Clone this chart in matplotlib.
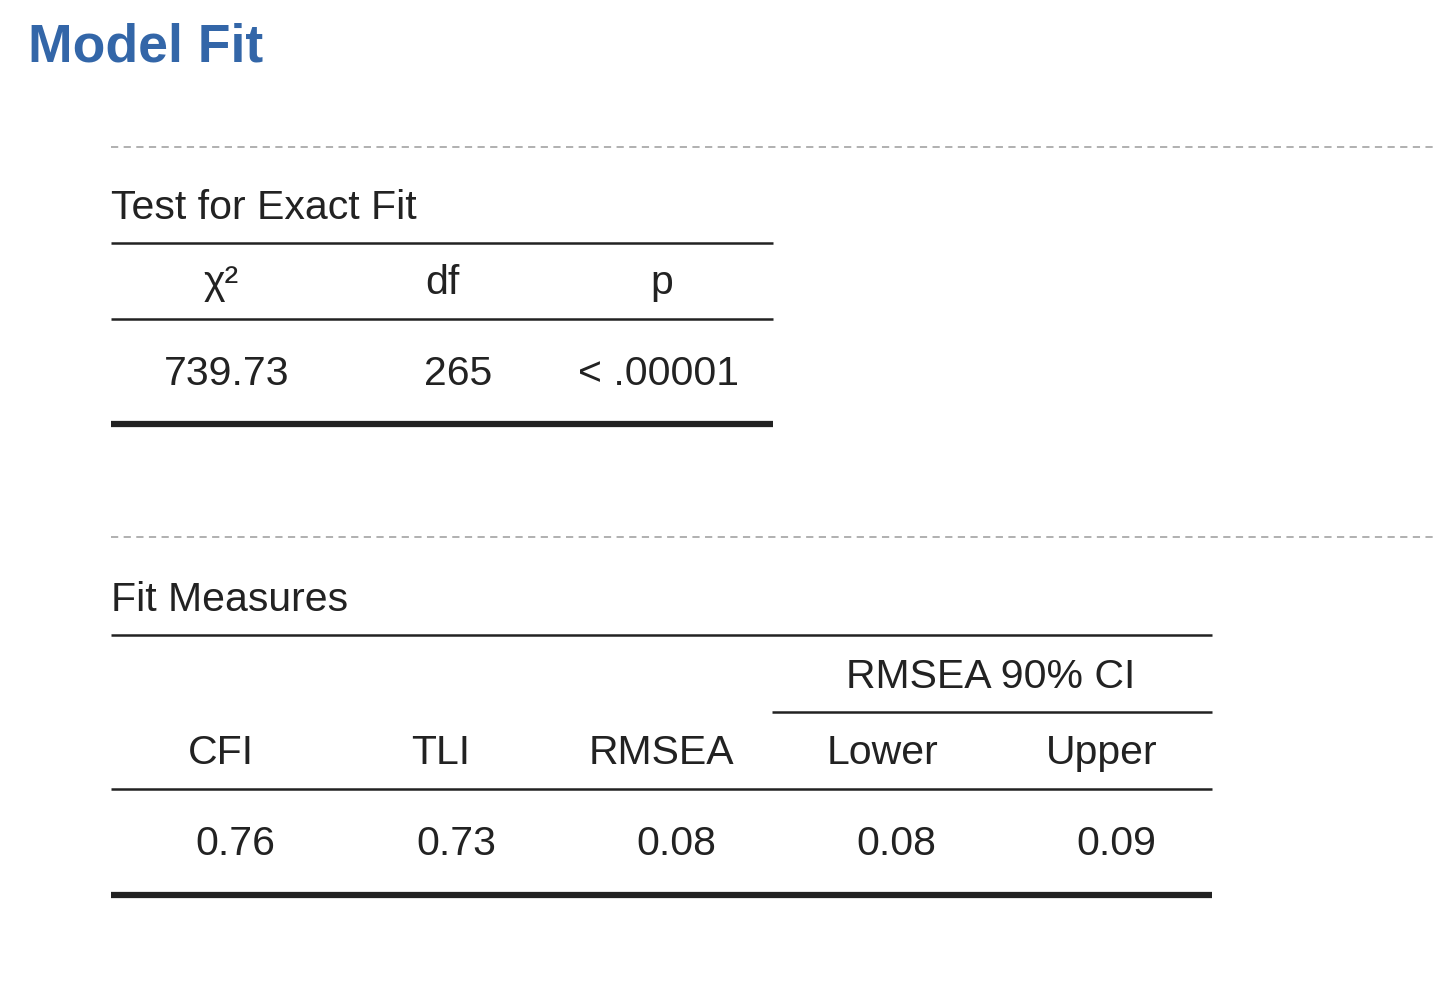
import matplotlib
matplotlib.use("Agg")
import matplotlib.pyplot as plt
from matplotlib.lines import Line2D

W, H = 1434, 997
title = "Model Fit"
t1_title = "Test for Exact Fit"
t1_headers = ["χ²", "df", "p"]
t1_values = ["739.73", "265", "< .00001"]
t2_title = "Fit Measures"
t2_span = "RMSEA 90% CI"
t2_headers = ["CFI", "TLI", "RMSEA", "Lower", "Upper"]
t2_values = ["0.76", "0.73", "0.08", "0.08", "0.09"]

plt.rcParams['font.family'] = ['Liberation Sans', 'DejaVu Sans']
fig = plt.figure(figsize=(W/100, H/100), dpi=100)

def T(x, y, s, **kw):
    fig.text(x/W, 1-y/H, s, **kw)

def L(x0, x1, y, lw=1.5, **kw):
    fig.add_artist(Line2D([x0/W, x1/W], [1-y/H, 1-y/H], lw=lw,
                          solid_capstyle='butt', dash_capstyle='butt', **kw))

fs = 29.5
c = '#222222'
T(28, 47, title, fontsize=38.5, fontweight='bold', color='#3366a8', va='center')
for y in (147, 537):
    L(111, 1434, y, lw=1.3, color='#aaaaaa', ls=(0, (4, 3)))

# Table 1
T(111, 208, t1_title, fontsize=fs, va='center', color=c)
L(111, 773, 243, lw=1.8, color=c)
L(111, 773, 319, lw=1.8, color=c)
L(111, 773, 424, lw=4.5, color=c)
hx1 = [221, 442, 662]
vx1 = [227, 458, 658]
for x, s in zip(hx1, t1_headers):
    T(x, 283, s, fontsize=fs, ha='center', va='center', color=c)
for x, s in zip(vx1, t1_values):
    T(x, 374, s, fontsize=fs, ha='center', va='center', color=c)

# Table 2
T(111, 600, t2_title, fontsize=fs, va='center', color=c)
L(111, 1212, 635, lw=1.8, color=c)
L(772, 1212, 712, lw=1.8, color=c)
L(111, 1212, 789, lw=1.8, color=c)
L(111, 1212, 895, lw=4.5, color=c)
T(991, 677, t2_span, fontsize=fs, ha='center', va='center', color=c)
hx2 = [221, 441, 661, 882, 1102]
vx2 = [235, 456, 676, 896, 1116]
for x, s in zip(hx2, t2_headers):
    T(x, 753, s, fontsize=fs, ha='center', va='center', color=c)
for x, s in zip(vx2, t2_values):
    T(x, 844, s, fontsize=fs, ha='center', va='center', color=c)

fig.savefig("out.png", dpi=100, facecolor='white')
